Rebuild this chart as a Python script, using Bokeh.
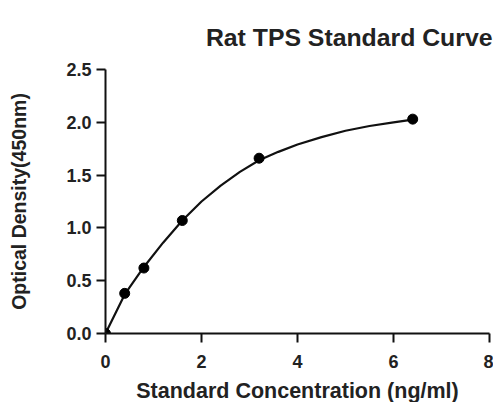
from bokeh.plotting import figure
from bokeh.models import Range1d, FixedTicker, PrintfTickFormatter, Title
from bokeh.embed import file_html
from bokeh.resources import INLINE

TITLE = "Rat TPS Standard Curve"

# standard points
conc = [0, 0.4, 0.8, 1.6, 3.2, 6.4]
od = [0.0, 0.38, 0.62, 1.07, 1.66, 2.03]

# fitted curve
curve_x = [0, 0.4, 0.8, 1.2, 1.6, 2.0, 2.4, 2.8, 3.2, 3.6, 4.0, 4.5, 5.0, 5.5, 6.0, 6.4]
curve_y = [0, 0.37, 0.63, 0.86, 1.07, 1.25, 1.40, 1.53, 1.64, 1.72, 1.79, 1.86, 1.92, 1.965, 2.00, 2.025]

x_ticks = [0, 2, 4, 6, 8]
y_ticks = [0.0, 0.5, 1.0, 1.5, 2.0, 2.5]

FONT = "Liberation Sans"

p = figure(output_backend="svg", toolbar_location=None,
           frame_width=384, frame_height=264,
           min_border_left=105, min_border_right=4,
           min_border_top=69, min_border_bottom=61,
           x_range=Range1d(0, 8), y_range=Range1d(0, 2.5))

p.title = Title(text=TITLE, align="right", offset=-3, standoff=38,
                text_font=FONT, text_font_size="24.8px", text_font_style="bold",
                text_color="#222222")

p.grid.visible = False
p.outline_line_color = None
p.background_fill_color = "white"
p.border_fill_color = "white"

xax = p.below[0]
yax = p.left[0]
for ax in (xax, yax):
    ax.axis_line_width = 2
    ax.axis_line_color = "#111111"
    ax.major_tick_line_width = 2
    ax.major_tick_line_color = "#111111"
    ax.major_tick_out = 9
    ax.major_tick_in = 0
    ax.minor_tick_line_color = None
    ax.major_label_text_font = FONT
    ax.major_label_text_font_size = "18px"
    ax.major_label_text_font_style = "bold"
    ax.major_label_text_color = "#222222"
    ax.axis_label_text_font = FONT
    ax.axis_label_text_font_style = "bold"
    ax.axis_label_text_color = "#222222"

xax.axis_label_text_font_size = "21.5px"
yax.axis_label_text_font_size = "19.5px"
xax.ticker = FixedTicker(ticks=x_ticks)
yax.ticker = FixedTicker(ticks=y_ticks)
xax.formatter = PrintfTickFormatter(format="%d")
yax.formatter = PrintfTickFormatter(format="%.1f")
xax.major_label_standoff = 12
yax.major_label_standoff = 5
xax.axis_label = "Standard Concentration (ng/ml)"
yax.axis_label = "Optical Density(450nm)"
xax.axis_label_standoff = 8
yax.axis_label_standoff = 33

p.line(curve_x, curve_y, line_color="#111111", line_width=2.2)
p.scatter(conc, od, size=10, color="#000000")

open("out.html", "w").write(file_html(p, INLINE))
